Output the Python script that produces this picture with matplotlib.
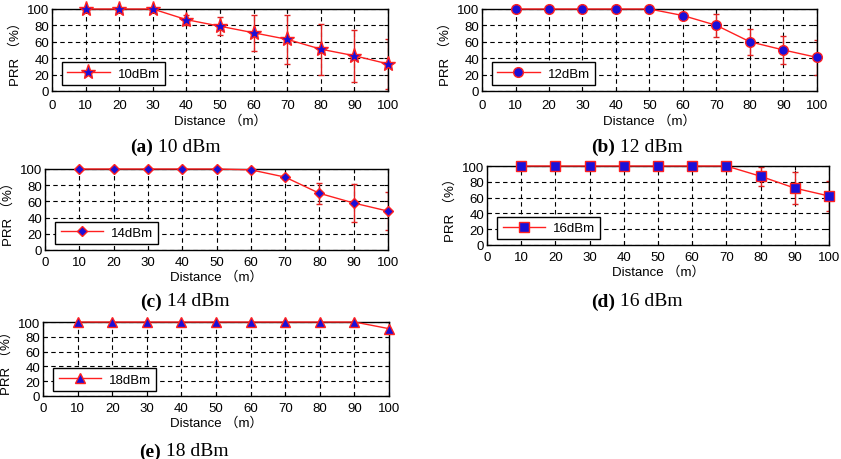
import matplotlib
matplotlib.use('Agg')
import matplotlib.pyplot as plt
import numpy as np

# distance (m) and packet reception rate (%) per tx power
distance = [10, 20, 30, 40, 50, 60, 70, 80, 90, 100]

prr_10 = [100, 100, 100, 87, 79, 71, 63, 51, 43, 33]
err_10 = [0, 0, 0, 6, 11, 22, 30, 31, 32, 30]

prr_12 = [100, 100, 100, 100, 100, 92, 80, 60, 50, 41]
err_12 = [0, 0, 0, 0, 0, 3, 14, 16, 17, 21]

prr_14 = [100, 100, 100, 100, 100, 99, 90, 70, 58, 48]
err_14 = [0, 0, 0, 0, 0, 0, 2, 13, 24, 23]

prr_16 = [100, 100, 100, 100, 100, 100, 100, 87, 72, 62]
err_16 = [0, 0, 0, 0, 0, 0, 0, 12, 20, 19]

prr_18 = [100, 100, 100, 100, 100, 100, 100, 100, 100, 91]
err_18 = [0, 0, 0, 0, 0, 0, 0, 0, 0, 0]

labels = ['10dBm', '12dBm', '14dBm', '16dBm', '18dBm']
captions = [('a', '10 dBm'), ('b', '12 dBm'), ('c', '14 dBm'), ('d', '16 dBm'), ('e', '18 dBm')]

W, H = 841, 460
SANS = ['Liberation Sans', 'Noto Sans CJK SC']
SERIF = ['Liberation Serif', 'DejaVu Serif']

plt.rcParams['font.family'] = SANS

# panel layout in pixels: left, top, right, bottom of axes, caption x/y, tick pad
panels = [
    dict(box=(52, 10, 388, 92), cap=(175, 147), pad=6),
    dict(box=(482, 10, 817, 92), cap=(637, 147), pad=6),
    dict(box=(45, 170, 388, 251), cap=(185, 302), pad=4),
    dict(box=(487, 167, 829, 246), cap=(637, 302), pad=4),
    dict(box=(43, 323, 389, 397), cap=(184, 452), pad=4),
]
series = [(prr_10, err_10, '*', 11), (prr_12, err_12, 'o', 7),
          (prr_14, err_14, 'D', 5.5), (prr_16, err_16, 's', 6.5),
          (prr_18, err_18, '^', 7)]

fig = plt.figure(figsize=(W / 100, H / 100), dpi=100)

for i, p in enumerate(panels):
    l, t, r, b = p['box']
    ax = fig.add_axes([l / W, 1 - b / H, (r - l) / W, (b - t) / H])
    y, e, mk, ms = series[i]
    x = np.array(distance)
    ya = np.array(y)
    ea = np.array(e)
    has = ea > 0
    if has.any():
        ax.errorbar(x[has], ya[has], yerr=ea[has], fmt='none', ecolor='#e02020',
                    elinewidth=1.0, capsize=2.5, capthick=1.0, zorder=2)
    ax.plot(distance, y, color='#ff2020', lw=1.0,
            marker=mk, ms=ms, mfc='#1a10d8', mec='#ff2020', mew=1.0,
            label=labels[i], clip_on=False, zorder=3)
    ax.set_xlim(0, 100)
    ax.set_ylim(0, 100)
    ax.set_xticks(np.arange(0, 101, 10))
    ax.set_yticks(np.arange(0, 101, 20))
    ax.tick_params(direction='in', length=3, labelsize=9.5, top=True, right=True, pad=2)
    ax.tick_params(axis='x', pad=p['pad'])
    ax.grid(True, color='black', linestyle=(0, (4, 3)), lw=0.8)
    for s in ax.spines.values():
        s.set_linewidth(1.0)
    ax.set_xlabel('Distance （m）', fontsize=9.5, labelpad=2)
    ax.set_ylabel('PRR （%）', fontsize=9.5, labelpad=4)
    leg = ax.legend(loc='lower left', bbox_to_anchor=(0.03, 0.07), borderaxespad=0,
                    fancybox=False, edgecolor='black', framealpha=1,
                    fontsize=9.5, handlelength=3.2, borderpad=0.4, handletextpad=0.6)
    leg.get_frame().set_linewidth(1.0)
    cx, cy = p['cap']
    letter, txt = captions[i]
    # caption: bold "(x)" followed by regular text, centred as one unit
    t1 = fig.text(0, 0, '(' + letter + ')', fontsize=14, family=SERIF, weight='bold')
    t2 = fig.text(0, 0, ' ' + txt, fontsize=14, family=SERIF)
    fig.canvas.draw()
    w1 = t1.get_window_extent().width
    w2 = t2.get_window_extent().width
    x0 = cx - (w1 + w2) / 2
    t1.set_position((x0 / W, 1 - cy / H))
    t2.set_position(((x0 + w1) / W, 1 - cy / H))
    t1.set_va('center')
    t2.set_va('center')

fig.savefig('out.png', dpi=100)
